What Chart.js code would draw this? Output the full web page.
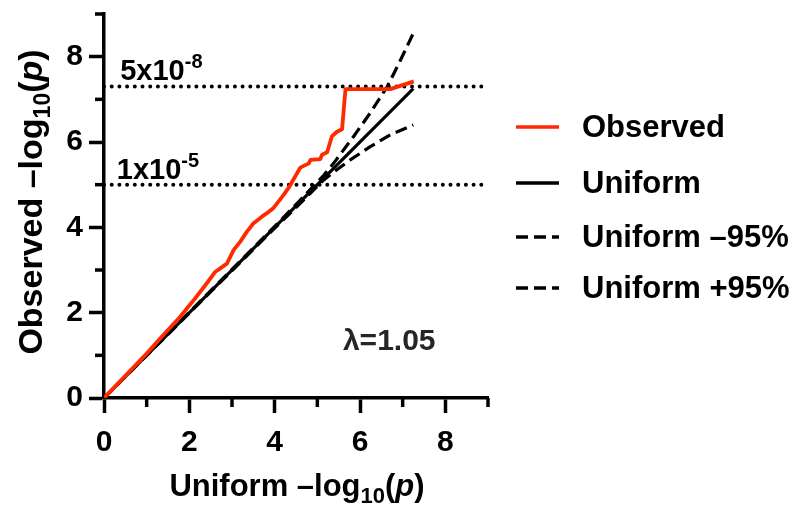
<!DOCTYPE html>
<html>
<head>
<meta charset="utf-8">
<script src="https://cdn.jsdelivr.net/npm/chart.js@4.4.1/dist/chart.umd.min.js"></script>
<style>
  html, body { margin: 0; padding: 0; background: #fff; }
  #wrap { width: 794px; height: 508px; }
</style>
</head>
<body>
<div id="wrap"><canvas id="c" width="794" height="508"></canvas></div>
<script>
// ---- data ----
const obsX = [0, 0.5, 1.0, 1.31, 1.78, 2.10, 2.41, 2.61, 2.70, 2.88, 3.04, 3.19, 3.35, 3.50, 3.70, 3.80, 3.97, 4.21, 4.37, 4.41, 4.60, 4.80, 4.84, 5.07, 5.11, 5.23, 5.34, 5.46, 5.58, 5.66, 6.71, 7.26];
const obsY = [0, 0.52, 1.04, 1.39, 1.90, 2.29, 2.69, 2.96, 3.02, 3.15, 3.47, 3.66, 3.90, 4.09, 4.25, 4.32, 4.45, 4.76, 4.99, 5.07, 5.40, 5.50, 5.58, 5.60, 5.70, 5.76, 6.13, 6.24, 6.30, 7.24, 7.24, 7.42];
const uniX = [0, 7.25];
const uniY = [0, 7.25];
const loX = [0, 4.0, 4.6, 5.15, 5.31, 5.77, 6.24, 6.71, 7.25];
const loY = [0, 3.98, 4.56, 5.11, 5.24, 5.58, 5.89, 6.17, 6.40];
const upX = [0, 4.0, 4.6, 5.15, 5.38, 5.85, 6.24, 6.64, 6.95, 7.25];
const upY = [0, 4.02, 4.64, 5.22, 5.50, 6.13, 6.68, 7.30, 7.92, 8.55];
const thresholds = [7.30, 5.0];
const thresholdBase = ['5x10', '1x10'];
const thresholdExp = ['-8', '-5'];
const seriesLabels = ['Observed', 'Uniform', 'Uniform \u201395%', 'Uniform +95%'];
const lambdaText = '\u03bb=1.05';
const xTickValues = [0, 2, 4, 6, 8];
const yTickValues = [0, 2, 4, 6, 8];

const FONT = '"Liberation Sans", Arial, Helvetica, sans-serif';
const RED = '#ff2a00';
const pts = (xs, ys) => xs.map((x, i) => ({ x: x, y: ys[i] }));

const datasets = [
  { label: seriesLabels[0], data: pts(obsX, obsY), borderColor: RED, borderWidth: 3.8, order: 0 },
  { label: seriesLabels[1], data: pts(uniX, uniY), borderColor: '#000', borderWidth: 3.2, order: 1 },
  { label: seriesLabels[2], data: pts(loX, loY), borderColor: '#000', borderWidth: 3.2, borderDash: [12, 6], order: 2 },
  { label: seriesLabels[3], data: pts(upX, upY), borderColor: '#000', borderWidth: 3.2, borderDash: [12, 6], order: 3 },
];
thresholds.forEach((t, i) => datasets.push({
  label: 'thr' + i, data: [{ x: 0, y: t }, { x: 9, y: t }],
  borderColor: '#000', borderWidth: 4, borderDash: [0, 7.7], borderCapStyle: 'round', order: 10
}));
datasets.forEach(d => { d.showLine = true; d.pointRadius = 0; d.fill = false; d.tension = 0; d.borderJoinStyle = 'round'; });

function drawSegments(ctx, segs, x, y, align) {
  let total = 0;
  segs.forEach(s => { ctx.font = s.font; s.w = ctx.measureText(s.text).width; total += s.w; });
  let cx = align === 'center' ? x - total / 2 : x;
  segs.forEach(s => {
    ctx.font = s.font;
    ctx.fillText(s.text, cx, y + (s.dy || 0));
    cx += s.w;
  });
}

const deco = {
  id: 'deco',
  afterDraw(chart) {
    const { ctx, scales: { x, y }, chartArea: ca } = chart;
    ctx.save();
    // minor ticks
    ctx.strokeStyle = '#000';
    ctx.lineWidth = 3.5;
    ctx.lineCap = 'butt';
    for (let v = 1; v <= 9; v += 2) {
      const px = x.getPixelForValue(v);
      ctx.beginPath(); ctx.moveTo(px, ca.bottom); ctx.lineTo(px, ca.bottom + 9); ctx.stroke();
      const py = y.getPixelForValue(v);
      ctx.beginPath(); ctx.moveTo(ca.left, py); ctx.lineTo(ca.left - 9, py); ctx.stroke();
    }
    ctx.fillStyle = '#000';
    ctx.textBaseline = 'alphabetic';
    ctx.textAlign = 'left';
    // threshold labels
    const thrPos = [{ x: 0.38, y: 7.46 }, { x: 0.3, y: 5.13 }];
    thresholds.forEach((t, i) => {
      drawSegments(ctx, [
        { text: thresholdBase[i], font: 'bold 29px ' + FONT },
        { text: thresholdExp[i], font: 'bold 20px ' + FONT, dy: -12 }
      ], x.getPixelForValue(thrPos[i].x), y.getPixelForValue(thrPos[i].y), 'left');
    });
    // lambda
    ctx.fillStyle = '#262626';
    ctx.font = 'bold 30px ' + FONT;
    ctx.fillText(lambdaText, x.getPixelForValue(5.6), y.getPixelForValue(1.12));
    ctx.fillStyle = '#000';
    // x title
    const xt = [
      { text: 'Uniform \u2013log', font: 'bold 31px ' + FONT },
      { text: '10', font: 'bold 22px ' + FONT, dy: 7 },
      { text: '(', font: 'bold 31px ' + FONT },
      { text: 'p', font: 'italic bold 31px ' + FONT },
      { text: ')', font: 'bold 31px ' + FONT },
    ];
    drawSegments(ctx, xt, (ca.left + ca.right) / 2 + 1, 496, 'center');
    // y title
    ctx.save();
    ctx.translate(42, 202);
    ctx.rotate(-Math.PI / 2);
    const yt = [
      { text: 'Observed \u2013log', font: 'bold 34px ' + FONT },
      { text: '10', font: 'bold 23px ' + FONT, dy: 8 },
      { text: '(', font: 'bold 34px ' + FONT },
      { text: 'p', font: 'italic bold 34px ' + FONT },
      { text: ')', font: 'bold 34px ' + FONT },
    ];
    drawSegments(ctx, yt, 0, 0, 'center');
    ctx.restore();
    // legend
    const rows = [127, 183, 237, 288];
    chart.data.datasets.slice(0, 4).forEach((d, i) => {
      ctx.save();
      ctx.strokeStyle = d.borderColor;
      ctx.lineWidth = 3.5;
      ctx.setLineDash(d.borderDash ? [12, 6] : []);
      ctx.beginPath(); ctx.moveTo(516, rows[i]); ctx.lineTo(559, rows[i]); ctx.stroke();
      ctx.restore();
      ctx.font = 'bold 31px ' + FONT;
      ctx.textBaseline = 'middle';
      ctx.fillText(d.label, 582, rows[i] + 1);
      ctx.textBaseline = 'alphabetic';
    });
    ctx.restore();
  }
};

const tickOpts = (vals) => ({
  stepSize: 1,
  autoSkip: false,
  maxRotation: 0,
  color: '#000',
  font: { family: FONT, size: 30, weight: 'bold' },
  callback: v => vals.includes(v) ? String(v) : ''
});
const gridOpts = {
  display: true,
  drawOnChartArea: false,
  drawTicks: true,
  tickLength: 15,
  tickWidth: 3.5,
  tickColor: c => (c.tick && c.tick.value % 2 === 0) ? '#000' : 'rgba(0,0,0,0)'
};

new Chart(document.getElementById('c'), {
  type: 'scatter',
  data: { datasets: datasets },
  options: {
    responsive: false,
    animation: false,
    devicePixelRatio: 1,
    layout: { padding: { left: 0, right: 306, top: 14, bottom: 0 } },
    scales: {
      x: {
        type: 'linear', min: 0, max: 9,
        ticks: Object.assign(tickOpts(xTickValues), { padding: 12 }),
        grid: gridOpts,
        border: { display: true, color: '#000', width: 3.5 },
        afterFit: s => { s.height = 110; s.paddingLeft = 0; s.paddingRight = 0; }
      },
      y: {
        type: 'linear', min: 0, max: 9,
        ticks: Object.assign(tickOpts(yTickValues), { padding: 6 }),
        grid: gridOpts,
        border: { display: true, color: '#000', width: 3.5 },
        afterFit: s => { s.width = 104; s.paddingTop = 0; s.paddingBottom = 0; }
      }
    },
    plugins: { legend: { display: false }, tooltip: { enabled: false } }
  },
  plugins: [deco]
});
</script>
</body>
</html>
